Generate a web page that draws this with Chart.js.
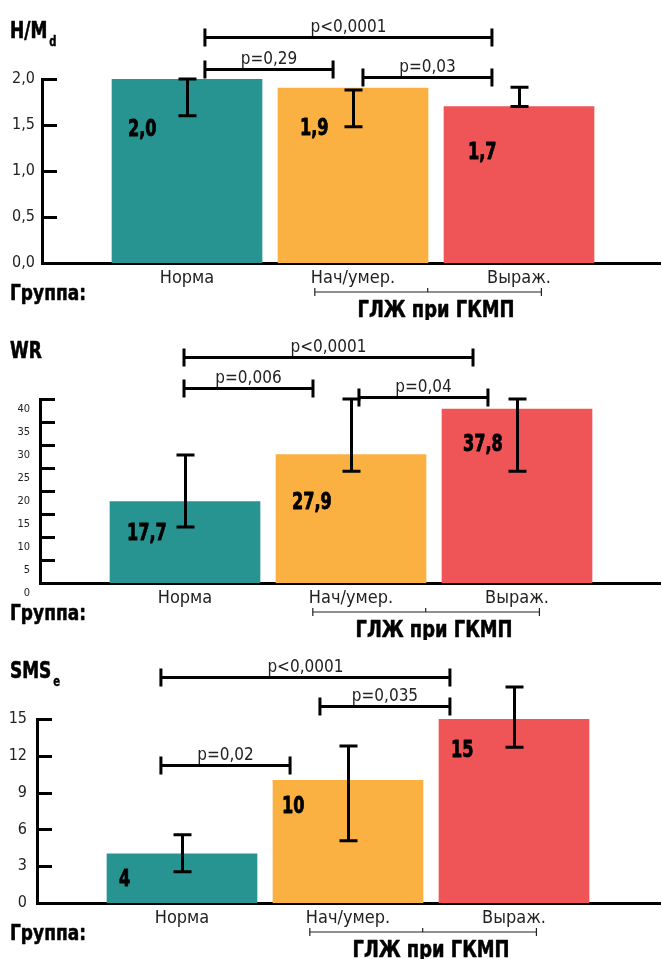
<!DOCTYPE html>
<html>
<head>
<meta charset="utf-8">
<script src="https://cdn.jsdelivr.net/npm/chart.js@4.4.1/dist/chart.umd.min.js"></script>
<style>
  body { margin: 0; background: #fff; width: 662px; height: 959px; overflow: hidden; position: relative; }
  canvas { position: absolute; left: 0; }
</style>
</head>
<body>
<canvas id="hmd" width="662" height="320" style="top:0"></canvas>
<canvas id="wr" width="662" height="320" style="top:320px"></canvas>
<canvas id="sms" width="662" height="320" style="top:640px"></canvas>
<script>
// data
var categories = ['Норма', 'Нач/умер.', 'Выраж.'];
var colors = ['#279491', '#FBB042', '#EF5456'];

var hmdValues = [2.0, 1.9, 1.7];
var hmdLow = [1.60, 1.48, 1.70];
var hmdHigh = [2.00, 1.88, 1.91];
var hmdBrackets = [
    { from: 1.108, to: 2.837, y: 2.457, text: 'p<0,0001' },
    { from: 1.108, to: 1.880, y: 2.109, text: 'p=0,29' },
    { from: 2.060, to: 2.837, y: 2.022, text: 'p=0,03' }
];

var wrValues = [17.7, 27.9, 37.8];
var wrLow = [12.2, 24.3, 24.3];
var wrHigh = [27.8, 40.0, 40.0];
var wrBrackets = [
    { from: 0.994, to: 2.735, y: 49.1, text: 'p<0,0001' },
    { from: 0.994, to: 1.771, y: 42.4, text: 'p=0,006' },
    { from: 2.048, to: 2.825, y: 40.4, text: 'p=0,04' }
];

var smsValues = [4, 10, 15];
var smsLow = [2.54, 5.08, 12.7];
var smsHigh = [5.57, 12.8, 17.6];
var smsBrackets = [
    { from: 0.873, to: 2.614, y: 18.44, text: 'p<0,0001' },
    { from: 1.831, to: 2.614, y: 16.07, text: 'p=0,035' },
    { from: 0.873, to: 1.651, y: 11.23, text: 'p=0,02' }
];

var FONT = "'Liberation Sans Narrow', 'DejaVu Sans Condensed', 'Roboto Condensed', 'Liberation Sans', sans-serif";
var UNIT = 166; // px between group centres

function fmt(v, dec) {
    return v.toFixed(dec).replace('.', ',');
}

// text squeezed horizontally (the original uses a condensed face), optionally thickened
function squeezeText(ctx, text, x, y, sx, heavy) {
    ctx.save();
    ctx.translate(x, y);
    ctx.scale(sx, 1);
    if (heavy) {
        ctx.lineWidth = heavy;
        ctx.strokeStyle = ctx.fillStyle;
        ctx.lineJoin = 'round';
        ctx.strokeText(text, 0, 0);
    }
    ctx.fillText(text, 0, 0);
    ctx.restore();
}

// draws error bars, value labels, brackets, titles
var overlay = {
    id: 'overlay',
    afterDraw: function(chart) {
        var p = chart.options.plugins.overlay;
        var ctx = chart.ctx;
        var xs = chart.scales.x, ys = chart.scales.y;
        var ax = chart.chartArea.left;
        ctx.save();
        ctx.strokeStyle = '#000';
        ctx.fillStyle = '#000';
        ctx.lineWidth = 3;

        // tick marks inside the axis
        ys.ticks.forEach(function(t) {
            var y = Math.round(ys.getPixelForValue(t.value)) + 0.5;
            ctx.beginPath();
            ctx.moveTo(ax, y);
            ctx.lineTo(ax + 15, y);
            ctx.stroke();
        });

        // error bars
        p.low.forEach(function(lo, i) {
            var x = Math.round(xs.getPixelForValue(i + 1)) + 0.5;
            var y1 = ys.getPixelForValue(lo), y2 = ys.getPixelForValue(p.high[i]);
            ctx.beginPath();
            ctx.moveTo(x, y1); ctx.lineTo(x, y2);
            ctx.moveTo(x - 9, y1); ctx.lineTo(x + 9, y1);
            ctx.moveTo(x - 9, y2); ctx.lineTo(x + 9, y2);
            ctx.stroke();
        });

        // value labels
        var bars = chart.getDatasetMeta(0).data;
        ctx.font = 'bold 23px ' + FONT;
        ctx.textBaseline = 'middle';
        ctx.textAlign = 'left';
        bars.forEach(function(b, i) {
            var left = b.x - b.width / 2;
            squeezeText(ctx, fmt(p.values[i], p.dec), left + p.labelPos[i][0], b.y + p.labelPos[i][1], 0.78, 0.8);
        });

        // significance brackets
        ctx.font = '17px ' + FONT;
        ctx.fillStyle = '#222';
        ctx.textAlign = 'center';
        ctx.textBaseline = 'alphabetic';
        p.brackets.forEach(function(br) {
            var x1 = xs.getPixelForValue(br.from), x2 = xs.getPixelForValue(br.to);
            var y = Math.round(ys.getPixelForValue(br.y)) + 0.5;
            ctx.beginPath();
            ctx.moveTo(x1, y); ctx.lineTo(x2, y);
            ctx.moveTo(x1, y - 9); ctx.lineTo(x1, y + 9);
            ctx.moveTo(x2, y - 9); ctx.lineTo(x2, y + 9);
            ctx.stroke();
            ctx.fillText(br.text, (x1 + x2) / 2, y - 6);
        });

        // title
        ctx.fillStyle = '#000';
        ctx.textAlign = 'left';
        ctx.font = 'bold 23px ' + FONT;
        squeezeText(ctx, p.title, 10, 38, 0.82, 0.6);
        if (p.sub) {
            var w = ctx.measureText(p.title).width * 0.82;
            ctx.font = 'bold 14px ' + FONT;
            squeezeText(ctx, p.sub, 10 + w + 2, 46, 0.8, 0.4);
        }

        // group captions
        ctx.font = 'bold 21px ' + FONT;
        squeezeText(ctx, 'Группа:', 10, 300, 76 / ctx.measureText('Группа:').width, 0.5);
        var gx1 = xs.getPixelForValue(1.77), gx2 = xs.getPixelForValue(3.135), gm = xs.getPixelForValue(2.45);
        ctx.lineWidth = 1.2;
        ctx.strokeStyle = '#222';
        ctx.beginPath();
        ctx.moveTo(gx1, 292); ctx.lineTo(gx2, 292);
        ctx.moveTo(gx1, 288); ctx.lineTo(gx1, 296);
        ctx.moveTo(gx2, 288); ctx.lineTo(gx2, 296);
        ctx.moveTo(gm, 288); ctx.lineTo(gm, 292);
        ctx.stroke();
        ctx.textAlign = 'center';
        ctx.font = 'bold 23px ' + FONT;
        squeezeText(ctx, 'ГЛЖ при ГКМП', xs.getPixelForValue(2.5), 317, 157 / ctx.measureText('ГЛЖ при ГКМП').width, 0.5);
        ctx.restore();
    }
};

function makePanel(id, cfg) {
    var right = 660;
    var xmin = 1 - 145 / UNIT;
    var xmax = xmin + (right - cfg.axisX) / UNIT;
    var ctx = document.getElementById(id).getContext('2d');
    return new Chart(ctx, {
        type: 'bar',
        data: {
            datasets: [{
                data: cfg.values.map(function(v, i) { return { x: i + 1, y: v }; }),
                backgroundColor: colors,
                barThickness: 150
            }]
        },
        options: {
            responsive: false,
            animation: false,
            devicePixelRatio: 1,
            layout: { padding: { top: 79, left: 0, right: 662 - right, bottom: 0 } },
            plugins: {
                legend: { display: false },
                tooltip: { enabled: false },
                overlay: cfg
            },
            scales: {
                x: {
                    type: 'linear',
                    offset: false,
                    min: xmin,
                    max: xmax,
                    grid: { display: false, drawTicks: false },
                    border: { color: '#000', width: 3 },
                    afterBuildTicks: function(s) {
                        s.ticks = [1, 2, 3].map(function(v) { return { value: v }; });
                    },
                    afterFit: function(s) { s.height = 57; },
                    ticks: {
                        callback: function(v) { return categories[v - 1]; },
                        font: { family: FONT, size: 18 },
                        color: '#222',
                        padding: 5,
                        maxRotation: 0,
                        autoSkip: false
                    }
                },
                y: {
                    min: 0,
                    max: cfg.max,
                    afterFit: function(s) { s.width = cfg.axisX; },
                    grid: { display: false, drawTicks: false },
                    border: { color: '#000', width: 3 },
                    ticks: {
                        stepSize: cfg.step,
                        callback: function(v) { return fmt(v, cfg.tickDec); },
                        font: { family: FONT, size: cfg.tickSize },
                        color: '#222',
                        padding: cfg.tickPad,
                        labelOffset: cfg.tickShift
                    }
                }
            }
        },
        plugins: [overlay]
    });
}

makePanel('hmd', {
    title: 'H/M', sub: 'd', axisX: 42, max: 2, step: 0.5, tickDec: 1, tickSize: 16, tickPad: 7, tickShift: 0,
    values: hmdValues, low: hmdLow, high: hmdHigh, brackets: hmdBrackets, dec: 1,
    labelPos: [[16, 51], [22, 41], [24, 46]]
});
makePanel('wr', {
    title: 'WR', sub: '', axisX: 40, max: 40, step: 5, tickDec: 0, tickSize: 11, tickPad: 10, tickShift: 10,
    values: wrValues, low: wrLow, high: wrHigh, brackets: wrBrackets, dec: 1,
    labelPos: [[17, 32], [16, 48], [21, 36]]
});
makePanel('sms', {
    title: 'SMS', sub: 'e', axisX: 37, max: 15, step: 3, tickDec: 0, tickSize: 16, tickPad: 10, tickShift: 0,
    values: smsValues, low: smsLow, high: smsHigh, brackets: smsBrackets, dec: 0,
    labelPos: [[12, 26], [9, 27], [12, 32]]
});
</script>
</body>
</html>
